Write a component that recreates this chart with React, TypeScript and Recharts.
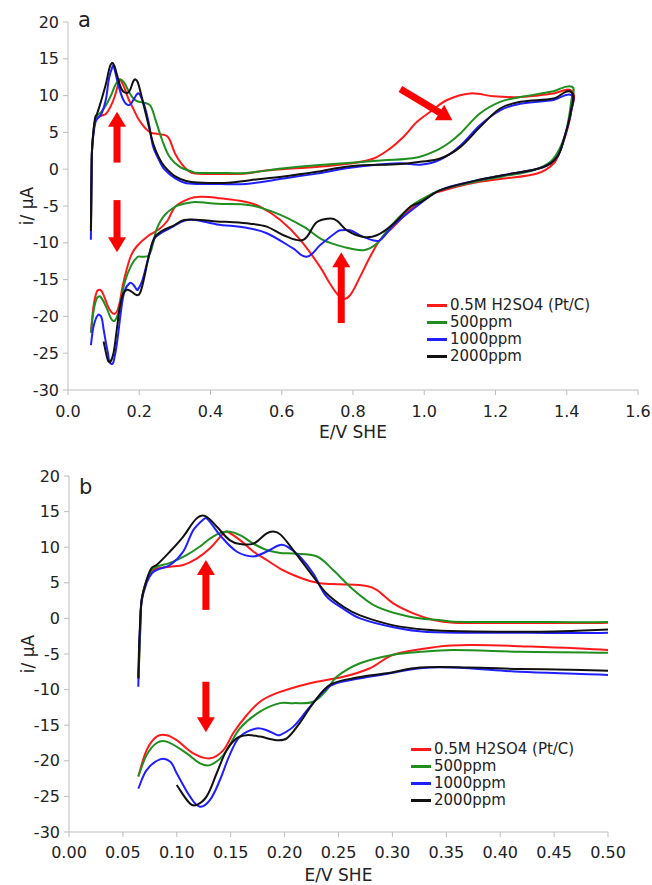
import { LineChart, Line, XAxis, YAxis, Legend, ReferenceLine, Label } from "recharts"

type Pt = [number, number]

// E (V vs SHE), i (µA) — forward (anodic) sweep then reverse (cathodic) sweep
const blankScan: Pt[] = [
  [0.0645, -8.0], [0.066, -2], [0.0674, 2.6], [0.072, 5.3], [0.0767, 6.6], [0.0813, 7.0], [0.0937, 7.26],
  [0.106, 7.5], [0.1184, 8.4], [0.1308, 9.85], [0.1432, 11.95], [0.1463, 12.2], [0.1586, 11.0], [0.171, 9.4],
  [0.1834, 8.2], [0.1957, 7.0], [0.2081, 6.1], [0.2205, 5.4], [0.2328, 4.95], [0.2514, 4.8], [0.2761, 4.55],
  [0.2854, 4.0], [0.3008, 2.1], [0.3194, 0.7], [0.338, -0.22], [0.3565, -0.6], [0.4, -0.65], [0.45, -0.65],
  [0.5, -0.6], [0.55, -0.2], [0.6, 0.0], [0.698, 0.3], [0.792, 0.77], [0.858, 1.45], [0.904, 2.8], [0.942, 4.4],
  [0.979, 6.4], [1.017, 7.8], [1.064, 9.4], [1.129, 10.3], [1.195, 9.9], [1.27, 9.8], [1.363, 10.3], [1.415, 10.6],
  [1.413, 8.0], [1.401, 5.3], [1.382, 2.6], [1.363, 0.77], [1.317, -0.59], [1.223, -1.27], [1.129, -1.95],
  [1.045, -3.0], [1.026, -3.3], [0.97, -5.1], [0.914, -7.8], [0.876, -9.6], [0.848, -11.9], [0.82, -14.6],
  [0.795, -16.9], [0.778, -17.6], [0.76, -17.2], [0.736, -15.6], [0.708, -13.3], [0.652, -9.6], [0.596, -6.9],
  [0.539, -5.1], [0.5, -4.45], [0.418, -3.9], [0.372, -3.75], [0.341, -4.0], [0.3008, -5.1], [0.2792, -7.0],
  [0.2545, -8.2], [0.2236, -9.1], [0.1926, -10.5], [0.1772, -11.7], [0.1648, -13.6], [0.1524, -16.1],
  [0.1432, -18.5], [0.1308, -19.65], [0.1153, -18.95], [0.0999, -17.1], [0.0906, -16.4], [0.0813, -16.6],
  [0.072, -18.5], [0.0643, -22.2],
]

const ppm500Scan: Pt[] = [
  [0.0645, -8.5], [0.066, -2], [0.0674, 2.6], [0.072, 5.4], [0.0767, 6.8], [0.0813, 7.26], [0.0937, 7.8],
  [0.109, 8.9], [0.1215, 10.1], [0.1336, 11.5], [0.1463, 12.2], [0.1586, 11.7], [0.171, 10.5], [0.1834, 9.6],
  [0.1957, 9.2], [0.208, 9.1], [0.23, 8.7], [0.245, 6.8], [0.264, 4.0], [0.2854, 1.65], [0.316, 0.24],
  [0.347, -0.3], [0.3565, -0.47], [0.42, -0.5], [0.5, -0.5], [0.6, 0.1], [0.698, 0.54], [0.886, 1.2],
  [0.979, 1.6], [1.036, 2.6], [1.073, 3.7], [1.101, 4.85], [1.157, 7.6], [1.213, 9.15], [1.27, 9.8],
  [1.363, 10.6], [1.415, 11.2],
  [1.413, 9.4], [1.401, 5.75], [1.382, 3.0], [1.354, 1.0], [1.307, -0.14], [1.223, -0.95], [1.129, -1.86],
  [1.045, -2.85], [0.989, -4.2], [0.961, -5.1], [0.904, -7.8], [0.867, -10.1], [0.829, -11.0], [0.773, -10.55],
  [0.717, -9.65], [0.661, -7.8], [0.586, -6.0], [0.511, -4.9], [0.418, -4.7], [0.3565, -4.45], [0.3256, -4.7],
  [0.3008, -5.1], [0.27, -6.3], [0.2483, -8.2], [0.239, -10.05], [0.2266, -11.7], [0.2081, -11.9],
  [0.1957, -11.9], [0.1772, -13.1], [0.1586, -15.45], [0.1432, -19.2], [0.1308, -20.6], [0.1215, -20.35],
  [0.1092, -18.95], [0.0906, -17.3], [0.0813, -17.5], [0.072, -19.2], [0.0643, -22.2],
]

const ppm1000Scan: Pt[] = [
  [0.0643, -9.6], [0.065, -5], [0.066, -1], [0.0674, 2.4], [0.072, 5.0], [0.0767, 6.3], [0.0813, 6.8],
  [0.0937, 7.5], [0.106, 9.4], [0.1153, 12.4], [0.1246, 13.9], [0.1277, 14.05], [0.14, 11.7], [0.1555, 9.4],
  [0.171, 8.7], [0.1834, 9.4], [0.1957, 10.3], [0.202, 10.1], [0.214, 8.7], [0.2266, 6.3], [0.239, 3.05],
  [0.255, 1.3], [0.27, 0.0], [0.301, -1.25], [0.332, -1.9], [0.4, -2.0], [0.5, -2.0], [0.605, -1.27],
  [0.698, -0.6], [0.792, 0.2], [0.933, 0.8], [0.989, 0.6], [1.045, 1.3], [1.101, 3.2], [1.157, 6.0],
  [1.213, 8.0], [1.27, 8.9], [1.363, 9.4], [1.413, 10.05],
  [1.413, 8.0], [1.391, 3.9], [1.373, 1.67], [1.335, 0.3], [1.223, -0.8], [1.129, -1.72], [1.045, -2.85],
  [0.989, -4.66], [0.914, -7.6], [0.876, -9.65], [0.858, -9.7], [0.82, -9.0], [0.792, -8.3], [0.764, -8.3],
  [0.755, -8.5], [0.708, -10.3], [0.67, -11.9], [0.633, -10.8], [0.558, -8.7], [0.5, -7.95], [0.418, -7.5],
  [0.3565, -6.9], [0.3256, -7.0], [0.2947, -7.8], [0.2637, -8.6], [0.242, -9.5], [0.2236, -12.4],
  [0.2081, -15.2], [0.1957, -16.4], [0.1926, -16.35], [0.1834, -15.7], [0.174, -15.45], [0.1586, -16.6],
  [0.149, -19.2], [0.14, -22.7], [0.1308, -25.5], [0.1215, -26.45], [0.1122, -25.0], [0.0999, -21.75],
  [0.0937, -20.1], [0.0844, -19.8], [0.072, -21.3], [0.0643, -23.9],
]

const ppm2000Scan: Pt[] = [
  [0.0643, -8.4], [0.065, -4], [0.066, -0.5], [0.0674, 2.6], [0.072, 5.4], [0.0767, 7.1], [0.0813, 7.5],
  [0.0937, 9.4], [0.106, 11.5], [0.1184, 14.05], [0.126, 14.4], [0.137, 12.9], [0.149, 11.0], [0.1586, 10.45],
  [0.171, 10.5], [0.1834, 11.95], [0.1895, 12.2], [0.196, 11.8], [0.208, 9.6], [0.2266, 5.86], [0.239, 3.5],
  [0.255, 1.6], [0.27, 0.42], [0.301, -0.98], [0.332, -1.6], [0.363, -1.8], [0.45, -1.85], [0.511, -1.5],
  [0.605, -1.0], [0.698, -0.36], [0.792, 0.4], [0.933, 0.7], [0.989, 1.0], [1.045, 1.45], [1.101, 3.0],
  [1.157, 5.75], [1.213, 8.25], [1.27, 9.15], [1.363, 9.6], [1.412, 10.5],
  [1.412, 8.0], [1.391, 3.9], [1.373, 1.67], [1.335, 0.3], [1.223, -0.8], [1.129, -1.72], [1.045, -2.85],
  [0.989, -4.5], [0.961, -5.1], [0.914, -7.4], [0.867, -8.97], [0.829, -9.2], [0.783, -8.3], [0.755, -7.0],
  [0.736, -6.7], [0.698, -7.2], [0.66, -9.6], [0.605, -8.97], [0.558, -7.8], [0.511, -7.4], [0.464, -7.2],
  [0.418, -7.1], [0.371, -6.9], [0.3256, -6.9], [0.2947, -7.7], [0.2637, -8.4], [0.242, -9.35],
  [0.2266, -11.9], [0.214, -14.7], [0.202, -16.85], [0.1926, -17.1], [0.1772, -16.6], [0.1648, -16.4],
  [0.1555, -16.85], [0.1463, -18.5], [0.137, -21.75], [0.1277, -25.0], [0.1184, -26.2], [0.1122, -26.0],
  [0.0999, -23.4],
]

const seriesNames = ["0.5M H2SO4 (Pt/C)", "500ppm", "1000ppm", "2000ppm"]
const seriesColors = ["#ff1a1a", "#1f8f1f", "#1f1fff", "#111111"]
const seriesScans = [blankScan, ppm500Scan, ppm1000Scan, ppm2000Scan]

const yTicks = [-30, -25, -20, -15, -10, -5, 0, 5, 10, 15, 20]
const xTicksA = [0, 0.2, 0.4, 0.6, 0.8, 1.0, 1.2, 1.4, 1.6]
const xTicksB = [0, 0.05, 0.1, 0.15, 0.2, 0.25, 0.3, 0.35, 0.4, 0.45, 0.5]

// arrow annotations: [[E start, i start], [E end, i end]]
const arrowsA: [Pt, Pt][] = [
  [[0.1376, 0.9], [0.1376, 7.8]],
  [[0.1376, -4.2], [0.1376, -11.3]],
  [[0.767, -20.9], [0.767, -11.3]],
  [[0.933, 10.9], [1.079, 6.66]],
]
const arrowsB: [Pt, Pt][] = [
  [[0.127, 1.2], [0.127, 8.2]],
  [[0.127, -8.9], [0.127, -16.0]],
]

const FONT = "'DejaVu Sans', 'Liberation Sans', Arial, sans-serif"
const AXIS_GRAY = "#bdbdbd"
const TEXT = "#222"

const toRows = (scan: Pt[]) => scan.map(([e, i]) => ({ e, i }))

// smooth curve through the points, handles scaled to each segment so loops don't overshoot
function smoothCurve(context: any) {
  let pts: number[][] = []
  const dir = (k: number) => {
    const a = pts[Math.max(k - 1, 0)]
    const b = pts[Math.min(k + 1, pts.length - 1)]
    const dx = b[0] - a[0]
    const dy = b[1] - a[1]
    const l = Math.hypot(dx, dy) || 1
    return [dx / l, dy / l]
  }
  return {
    areaStart() {},
    areaEnd() {},
    lineStart() {
      pts = []
    },
    point(x: number, y: number) {
      pts.push([+x, +y])
    },
    lineEnd() {
      if (!pts.length) return
      context.moveTo(pts[0][0], pts[0][1])
      for (let k = 0; k < pts.length - 1; k++) {
        const p = pts[k]
        const q = pts[k + 1]
        const L = Math.hypot(q[0] - p[0], q[1] - p[1]) / 3
        const d1 = dir(k)
        const d2 = dir(k + 1)
        context.bezierCurveTo(p[0] + d1[0] * L, p[1] + d1[1] * L, q[0] - d2[0] * L, q[1] - d2[1] * L, q[0], q[1])
      }
    },
  }
}

function ArrowShape(props: any) {
  const { x1, y1, x2, y2 } = props
  const dx = x2 - x1
  const dy = y2 - y1
  const len = Math.hypot(dx, dy) || 1
  const ux = dx / len
  const uy = dy / len
  const head = 15
  const half = 9
  const bx = x2 - ux * head
  const by = y2 - uy * head
  const nx = -uy
  const ny = ux
  return (
    <g>
      <line x1={x1} y1={y1} x2={bx + ux} y2={by + uy} stroke="#ff0000" strokeWidth={7} />
      <polygon
        points={`${x2},${y2} ${bx + nx * half},${by + ny * half} ${bx - nx * half},${by - ny * half}`}
        fill="#ff0000"
      />
    </g>
  )
}

function LegendBox() {
  return (
    <div style={{ fontFamily: FONT, fontSize: 15, color: TEXT, lineHeight: "17px" }}>
      {seriesNames.map((n, k) => (
        <div key={n} style={{ display: "flex", alignItems: "center", whiteSpace: "nowrap" }}>
          <span style={{ display: "inline-block", width: 20, height: 2.5, background: seriesColors[k], marginRight: 3 }} />
          <span>{n}</span>
        </div>
      ))}
    </div>
  )
}

function CVPanel(props: {
  width: number
  height: number
  margin: { top: number; right: number; bottom: number; left: number }
  xMax: number
  xTicks: number[]
  digits: number
  arrows: [Pt, Pt][]
  legendPos: { left: number; top: number }
  tickGap: number
  titleOffset: number
}) {
  const { width, height, margin, xMax, xTicks, digits, arrows, legendPos, tickGap, titleOffset } = props
  const tickStyle = { fill: TEXT, fontSize: 16, fontFamily: FONT }
  return (
    <LineChart width={width} height={height} margin={margin}>
      <XAxis
        type="number"
        dataKey="e"
        domain={[0, xMax]}
        ticks={xTicks}
        allowDataOverflow
        tickFormatter={(v: number) => v.toFixed(digits)}
        tick={tickStyle}
        stroke={AXIS_GRAY}
        tickSize={5}
        tickMargin={tickGap}
        height={30}
      >
        <Label value="E/V SHE" position="bottom" offset={titleOffset} style={{ fill: TEXT, fontSize: 17, fontFamily: FONT }} />
      </XAxis>
      <YAxis
        type="number"
        domain={[-30, 20]}
        ticks={yTicks}
        allowDataOverflow
        tick={tickStyle}
        stroke={AXIS_GRAY}
        tickSize={5}
        tickMargin={4}
        width={60}
      >
        <Label
          value="i/ μA"
          angle={-90}
          position="insideLeft"
          offset={19}
          style={{ fill: TEXT, fontSize: 17, fontFamily: FONT, textAnchor: "middle" }}
        />
      </YAxis>
      {seriesScans.map((scan, k) => (
        <Line
          key={seriesNames[k]}
          data={toRows(scan)}
          dataKey="i"
          name={seriesNames[k]}
          type={smoothCurve as any}
          stroke={seriesColors[k]}
          strokeWidth={2}
          dot={false}
          activeDot={false}
          isAnimationActive={false}
        />
      ))}
      {arrows.map((a, k) => (
        <ReferenceLine
          key={k}
          segment={[{ x: a[0][0], y: a[0][1] }, { x: a[1][0], y: a[1][1] }]}
          shape={ArrowShape}
        />
      ))}
      <Legend
        layout="vertical"
        align="center"
        verticalAlign="middle"
        content={LegendBox}
        wrapperStyle={{ left: legendPos.left, top: legendPos.top, width: 200 }}
      />
    </LineChart>
  )
}

export default function App() {
  return (
    <div style={{ position: "absolute", left: 0, top: 0, width: 652, height: 885, background: "#fff", fontFamily: FONT }}>
      <div style={{ position: "absolute", left: 0, top: 0 }}>
        <CVPanel
          width={652}
          height={452}
          margin={{ top: 22, right: 14, bottom: 32, left: 8 }}
          xMax={1.6}
          xTicks={xTicksA}
          digits={1}
          arrows={arrowsA}
          legendPos={{ left: 427, top: 297 }}
          tickGap={11}
          titleOffset={6}
        />
      </div>
      <div style={{ position: "absolute", left: 0, top: 440 }}>
        <CVPanel
          width={652}
          height={445}
          margin={{ top: 36, right: 44, bottom: 23, left: 9 }}
          xMax={0.5}
          xTicks={xTicksB}
          digits={2}
          arrows={arrowsB}
          legendPos={{ left: 411, top: 301 }}
          tickGap={10}
          titleOffset={7}
        />
      </div>
      <div style={{ position: "absolute", left: 78, top: 8, fontSize: 21, color: TEXT }}>a</div>
      <div style={{ position: "absolute", left: 79, top: 475, fontSize: 21, color: TEXT }}>b</div>
    </div>
  )
}
